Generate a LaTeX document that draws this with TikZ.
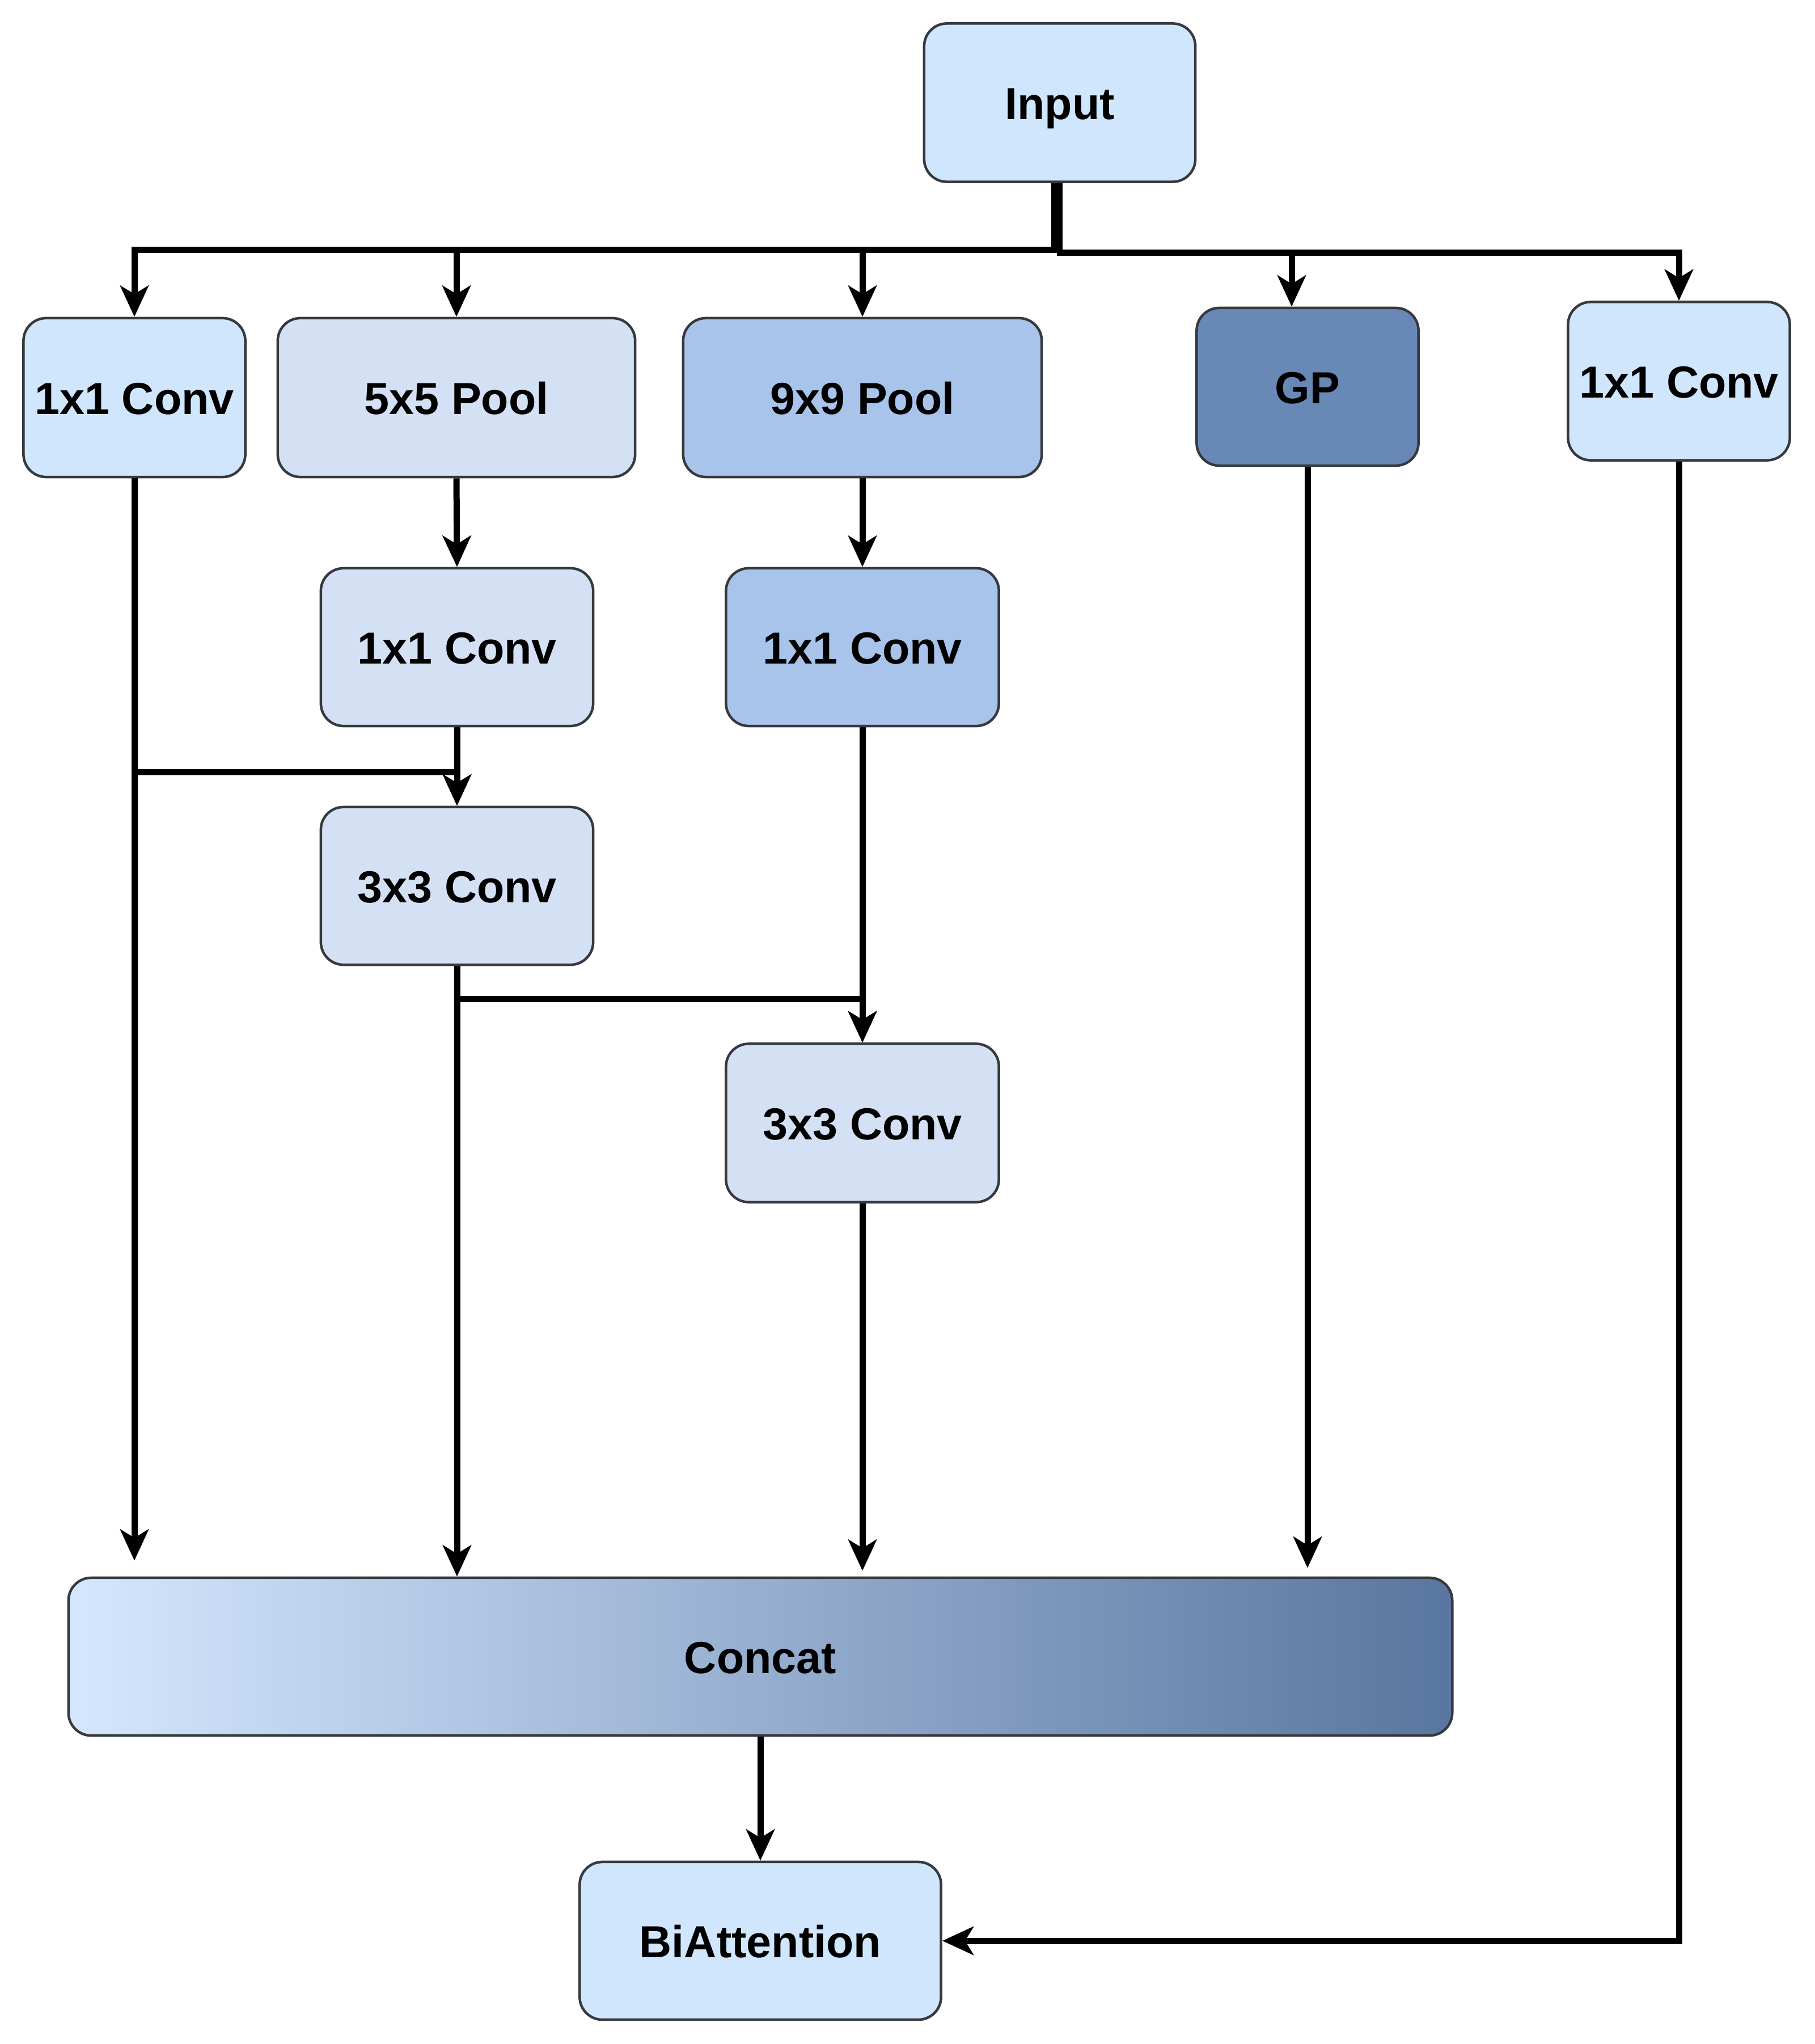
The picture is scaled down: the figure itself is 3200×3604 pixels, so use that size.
\documentclass[tikz,border=0pt]{standalone}
\usepackage{fontspec}
\setmainfont{Liberation Sans}
\usetikzlibrary{arrows.meta,calc}
\definecolor{lblue}{HTML}{D0E6FD}
\definecolor{mblue}{HTML}{D4E1F5}
\definecolor{pblue}{HTML}{A9C4EB}
\definecolor{dblue}{HTML}{6889B6}
\definecolor{gleft}{HTML}{D4E7FE}
\definecolor{gright}{HTML}{5976A0}
\definecolor{bord}{HTML}{36393D}
\tikzset{
  box/.style={draw=bord, line width=0.045cm, rounded corners=0.4cm, inner sep=0pt,
    font=\bfseries\fontsize{22.5}{27}\selectfont, text=black, align=center,
    text height=16.8pt, text depth=0pt},
  conn/.style={line width=0.11cm, draw=black},
  arr/.style={conn, -{Stealth[length=0.55cm,width=0.5cm,inset=0.15cm]}},
}
\begin{document}
\begin{tikzpicture}[x=0.01cm,y=-0.01cm]
\useasboundingbox (0,0) rectangle (3200,3604);
% nodes
\node[box, fill=lblue, minimum width=4.78cm, minimum height=2.79cm] (input) at (1869,181) {Input};
\node[box, fill=lblue, minimum width=3.91cm, minimum height=2.80cm] (c1) at (237,701) {1x1 Conv};
\node[box, fill=mblue, minimum width=6.30cm, minimum height=2.80cm] (pool5) at (805,701) {5x5 Pool};
\node[box, fill=pblue, minimum width=6.32cm, minimum height=2.80cm] (pool9) at (1521,701) {9x9 Pool};
\node[box, fill=dblue, minimum width=3.91cm, minimum height=2.78cm] (gp) at (2306,682) {GP};
\node[box, fill=lblue, minimum width=3.91cm, minimum height=2.79cm] (c5) at (2961,672) {1x1 Conv};
\node[box, fill=mblue, minimum width=4.80cm, minimum height=2.78cm] (m1) at (806,1141) {1x1 Conv};
\node[box, fill=pblue, minimum width=4.81cm, minimum height=2.78cm] (m2) at (1521,1141) {1x1 Conv};
\node[box, fill=mblue, minimum width=4.80cm, minimum height=2.78cm] (conv3) at (806,1562) {3x3 Conv};
\node[box, fill=mblue, minimum width=4.81cm, minimum height=2.79cm] (conv3b) at (1521,1980) {3x3 Conv};
\node[box, left color=gleft, right color=gright, minimum width=24.39cm, minimum height=2.78cm] (concat) at (1341,2921) {Concat};
\node[box, fill=lblue, minimum width=6.37cm, minimum height=2.78cm] (bia) at (1341,3422) {BiAttention};
% helper coordinates
\coordinate (busy) at (0,441);
\coordinate (y1) at (0,1361);
\coordinate (y2) at (0,1761);
\coordinate (inb) at ([xshift=-0.05cm]input.south);
% input bus
\draw[line width=0.2cm] (inb) -- (inb |- busy);
\draw[arr] (inb |- busy) -| (c1.north);
\draw[arr] (inb |- busy) -| (pool5.north);
\draw[arr] (inb |- busy) -| (pool9.north);
\draw[arr] ([yshift=-0.05cm]inb |- busy) -| ([xshift=-0.28cm]gp.north);
\draw[arr] ([yshift=-0.05cm]inb |- busy) -| (c5.north);
% branch 1
\draw[arr, shorten >=0.28cm] (c1.south) -- (c1.south |- concat.north);
\draw[arr] (pool5.south) -- (m1.north);
\draw[arr] (m1.south) -- (conv3.north);
\draw[arr] (c1.south |- y1) -| (conv3.north);
% branch 2
\draw[arr] (pool9.south) -- (m2.north);
\draw[arr] (m2.south) -- (conv3b.north);
\draw[arr] (conv3.south) -- (conv3.south |- concat.north);
\draw[arr] (conv3.south |- y2) -| (conv3b.north);
\draw[arr, shorten >=0.1cm] (conv3b.south) -- (conv3b.south |- concat.north);
% GP
\draw[arr, shorten >=0.15cm] (gp.south) -- (gp.south |- concat.north);
% right branch
\draw[arr] (c5.south) |- (bia.east);
% concat to biattention
\draw[arr] (concat.south) -- (bia.north);
\end{tikzpicture}
\end{document}
